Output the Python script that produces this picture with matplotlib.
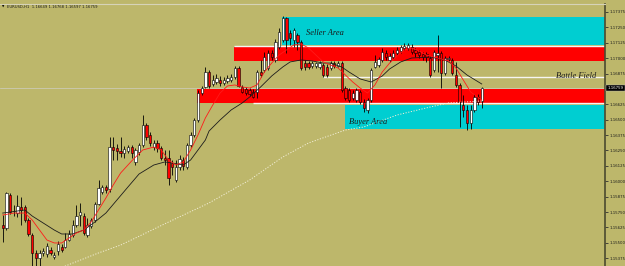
import matplotlib
matplotlib.use("Agg")
import matplotlib.pyplot as plt
import matplotlib.transforms as mtransforms
from matplotlib.patches import Rectangle

BG = "#bdb76b"
CYAN = "#00ced1"
RED = "#ff0000"

header_text = "EURUSD,H1  1.16649 1.16768 1.16597 1.16759"
last_price = 1.16759
last_label = "1.16759"

opens = [1.15645, 1.15621, 1.15889, 1.15759, 1.15742, 1.15791, 1.15791, 1.15686, 1.15564, 1.15418,
         1.15377, 1.15418, 1.15410, 1.15442, 1.15385, 1.15434, 1.15466, 1.15466, 1.15523, 1.15564,
         1.15645, 1.15726, 1.15718, 1.15564, 1.15637, 1.15686, 1.15816, 1.15913, 1.15954, 1.15937,
         1.16278, 1.16270, 1.16246, 1.16230, 1.16246, 1.16278, 1.16157, 1.16238, 1.16295, 1.16457,
         1.16376, 1.16278, 1.16311, 1.16270, 1.16189, 1.16189, 1.16148, 1.16010, 1.16116, 1.16173,
         1.16116, 1.16295, 1.16376, 1.16498, 1.16717, 1.16766, 1.16887, 1.16790, 1.16806, 1.16822,
         1.16798, 1.16814, 1.16822, 1.16847, 1.16920, 1.16766, 1.16749, 1.16741, 1.16725, 1.16725,
         1.16887, 1.16904, 1.16920, 1.17042, 1.16985, 1.17090, 1.17147, 1.17326, 1.17204, 1.17147,
         1.17188, 1.17131, 1.16960, 1.16960, 1.16936, 1.16936, 1.16928, 1.16944, 1.16928, 1.16920,
         1.16960, 1.16936, 1.16960, 1.16757, 1.16741, 1.16676, 1.16660, 1.16725, 1.16644, 1.16579,
         1.16660, 1.16928, 1.16944, 1.16985, 1.17042, 1.16985, 1.17009, 1.17042, 1.17058, 1.17082,
         1.17082, 1.17090, 1.17066, 1.17050, 1.17034, 1.17034, 1.17001, 1.16904, 1.17025, 1.17042,
         1.16879, 1.16993, 1.16985, 1.16863, 1.16782, 1.16619, 1.16579, 1.16473, 1.16579, 1.16684,
         1.16649]
highs = [1.15726, 1.15913, 1.15905, 1.15808, 1.15889, 1.15872, 1.15808, 1.15702, 1.15580, 1.15442,
         1.15442, 1.15458, 1.15499, 1.15466, 1.15426, 1.15515, 1.15491, 1.15580, 1.15604, 1.15686,
         1.15808, 1.15824, 1.15742, 1.15702, 1.15702, 1.15832, 1.16010, 1.15970, 1.15970, 1.16360,
         1.16360, 1.16303, 1.16360, 1.16287, 1.16295, 1.16295, 1.16270, 1.16311, 1.16538, 1.16473,
         1.16400, 1.16335, 1.16335, 1.16287, 1.16254, 1.16254, 1.16173, 1.16173, 1.16213, 1.16197,
         1.16311, 1.16400, 1.16514, 1.16741, 1.16774, 1.16928, 1.16904, 1.16863, 1.16871, 1.16855,
         1.16847, 1.16863, 1.16871, 1.16936, 1.16936, 1.16782, 1.16766, 1.16757, 1.16749, 1.16904,
         1.16985, 1.17050, 1.17066, 1.17066, 1.17155, 1.17245, 1.17342, 1.17334, 1.17228, 1.17245,
         1.17204, 1.17147, 1.16985, 1.16977, 1.16977, 1.16969, 1.16977, 1.16960, 1.16952, 1.16977,
         1.16977, 1.16977, 1.16977, 1.16774, 1.16757, 1.16741, 1.16757, 1.16741, 1.16668, 1.16676,
         1.16920, 1.17025, 1.17009, 1.17082, 1.17066, 1.17042, 1.17066, 1.17090, 1.17107, 1.17123,
         1.17123, 1.17115, 1.17082, 1.17066, 1.17050, 1.17050, 1.17017, 1.17066, 1.17188, 1.17058,
         1.17017, 1.17017, 1.17001, 1.16969, 1.16798, 1.16701, 1.16619, 1.16619, 1.16709, 1.16709,
         1.16768]
lows = [1.15507, 1.15604, 1.15734, 1.15718, 1.15710, 1.15645, 1.15669, 1.15556, 1.15300, 1.15300,
        1.15300, 1.15393, 1.15385, 1.15401, 1.15369, 1.15401, 1.15426, 1.15458, 1.15515, 1.15548,
        1.15629, 1.15637, 1.15564, 1.15548, 1.15621, 1.15669, 1.15808, 1.15897, 1.15905, 1.15913,
        1.16173, 1.16173, 1.16197, 1.16189, 1.16230, 1.16189, 1.16132, 1.16213, 1.16278, 1.16335,
        1.16287, 1.16254, 1.16238, 1.16173, 1.16132, 1.15970, 1.16051, 1.15994, 1.16092, 1.16092,
        1.16100, 1.16278, 1.16360, 1.16481, 1.16701, 1.16757, 1.16757, 1.16774, 1.16790, 1.16774,
        1.16782, 1.16798, 1.16806, 1.16831, 1.16766, 1.16717, 1.16701, 1.16692, 1.16676, 1.16676,
        1.16847, 1.16887, 1.16904, 1.16985, 1.16969, 1.17074, 1.17131, 1.17042, 1.17107, 1.17090,
        1.17066, 1.16904, 1.16904, 1.16912, 1.16920, 1.16920, 1.16912, 1.16847, 1.16847, 1.16904,
        1.16920, 1.16928, 1.16725, 1.16660, 1.16644, 1.16660, 1.16644, 1.16628, 1.16563, 1.16554,
        1.16644, 1.16920, 1.16928, 1.16969, 1.16985, 1.16969, 1.16993, 1.17025, 1.17042, 1.17066,
        1.17066, 1.17034, 1.17009, 1.17001, 1.16985, 1.16969, 1.16847, 1.16887, 1.16887, 1.16757,
        1.16863, 1.16977, 1.16863, 1.16766, 1.16441, 1.16522, 1.16416, 1.16425, 1.16563, 1.16619,
        1.16597]
closes = [1.15621, 1.15905, 1.15751, 1.15755, 1.15799, 1.15767, 1.15686, 1.15572, 1.15418, 1.15377,
          1.15418, 1.15434, 1.15474, 1.15418, 1.15401, 1.15491, 1.15442, 1.15523, 1.15572, 1.15645,
          1.15718, 1.15751, 1.15580, 1.15645, 1.15686, 1.15816, 1.15945, 1.15954, 1.15929, 1.16278,
          1.16254, 1.16246, 1.16230, 1.16262, 1.16278, 1.16230, 1.16254, 1.16295, 1.16457, 1.16360,
          1.16311, 1.16311, 1.16270, 1.16189, 1.16173, 1.16027, 1.16116, 1.16116, 1.16181, 1.16124,
          1.16295, 1.16376, 1.16498, 1.16717, 1.16757, 1.16887, 1.16774, 1.16822, 1.16839, 1.16798,
          1.16822, 1.16839, 1.16847, 1.16920, 1.16774, 1.16725, 1.16717, 1.16709, 1.16684, 1.16887,
          1.16863, 1.17009, 1.17042, 1.17009, 1.17131, 1.17212, 1.17326, 1.17147, 1.17163, 1.17228,
          1.17131, 1.16920, 1.16928, 1.16928, 1.16960, 1.16960, 1.16960, 1.16863, 1.16863, 1.16960,
          1.16936, 1.16960, 1.16741, 1.16676, 1.16660, 1.16717, 1.16741, 1.16644, 1.16595, 1.16660,
          1.16904, 1.16969, 1.16993, 1.17050, 1.17009, 1.17017, 1.17042, 1.17066, 1.17090, 1.17099,
          1.17107, 1.17050, 1.17042, 1.17025, 1.17009, 1.17009, 1.16863, 1.17050, 1.17042, 1.16879,
          1.17001, 1.17001, 1.16879, 1.16782, 1.16644, 1.16579, 1.16473, 1.16579, 1.16684, 1.16644,
          1.16759]

# fast (red) moving average, read at selected bars
fast_ma_bars = [0, 3, 6, 8, 10, 12, 14, 16, 18, 20, 22, 24, 26, 28, 30, 32, 35, 38, 41, 43, 45, 47,
                49, 51, 53, 55, 57, 59, 61, 63, 65, 67, 69, 71, 73, 75, 77, 79, 81, 83, 85, 87, 89,
                91, 93, 95, 97, 99, 101, 103, 105, 107, 109, 111, 113, 115, 117, 119, 121, 123, 125,
                127, 130]
fast_ma = [1.15726, 1.15742, 1.15742, 1.15686, 1.15604, 1.15523, 1.15499, 1.15499, 1.15539, 1.15580,
           1.15604, 1.15669, 1.15767, 1.15864, 1.15970, 1.16067, 1.16165, 1.16254, 1.16278, 1.16254,
           1.16173, 1.16132, 1.16157, 1.16254, 1.16376, 1.16514, 1.16619, 1.16717, 1.16774, 1.16782,
           1.16766, 1.16757, 1.16782, 1.16887, 1.16960, 1.17025, 1.17066, 1.17107, 1.17115, 1.17082,
           1.17025, 1.16969, 1.16944, 1.16920, 1.16863, 1.16806, 1.16757, 1.16717, 1.16782, 1.16887,
           1.16960, 1.17017, 1.17066, 1.17082, 1.17058, 1.17025, 1.17009, 1.16993, 1.16977, 1.16920,
           1.16822, 1.16725, 1.16660]

# slower (black) moving average
mid_ma_bars = [0, 6, 8, 11, 14, 16, 19, 22, 25, 28, 31, 34, 37, 41, 44, 46, 49, 51, 53, 55, 56, 59,
               62, 65, 67, 70, 73, 76, 78, 81, 84, 87, 89, 92, 94, 97, 100, 103, 105, 108, 111, 116,
               120, 123, 126, 130]
mid_ma = [1.15742, 1.15767, 1.15718, 1.15661, 1.15604, 1.15572, 1.15572, 1.15604, 1.15669, 1.15742,
          1.15848, 1.15954, 1.16059, 1.16132, 1.16157, 1.16148, 1.16132, 1.16173, 1.16254, 1.16335,
          1.16408, 1.16498, 1.16579, 1.16636, 1.16684, 1.16766, 1.16855, 1.16928, 1.16969, 1.16985,
          1.16977, 1.16960, 1.16960, 1.16928, 1.16887, 1.16831, 1.16806, 1.16855, 1.16912, 1.16969,
          1.17001, 1.17009, 1.16985, 1.16936, 1.16863, 1.16790]

# long (dotted) moving average
slow_ma_bars = [12, 17, 26, 32, 36, 45, 56, 67, 76, 83, 93, 98, 107, 116, 121, 130]
slow_ma = [1.15263, 1.15312, 1.15418, 1.15482, 1.15539, 1.15669, 1.15824, 1.16010, 1.16197, 1.16311,
           1.16416, 1.16441, 1.16538, 1.16603, 1.16636, 1.16652]

# drawn zones: start bar, top price, bottom price
seller_zone = (75.8, 1.17334, 1.17107)
upper_red_zone = (62.8, 1.17090, 1.16977)
lower_red_zone = (52.8, 1.16749, 1.16636)
buyer_zone = (92.9, 1.16619, 1.16425)
# drawn horizontal lines: start bar, price
upper_line = (62.8, 1.17099)
battle_line = (86.9, 1.16847)
lower_line = (67.9, 1.16636)

tick_labels = ["1.17375", "1.17250", "1.17125", "1.17000", "1.16875", "1.16625", "1.16500",
               "1.16375", "1.16250", "1.16125", "1.16000", "1.15875", "1.15750", "1.15625",
               "1.15500", "1.15375"]

W, H = 625, 266
fig = plt.figure(figsize=(W / 100, H / 100), dpi=100, facecolor=BG)
ax = fig.add_axes([0, 0, 605 / W, 262 / H])
ax.set_facecolor(BG)
XL, XR = -0.733, 163.45
ax.set_xlim(XL, XR)
ax.set_ylim(1.15312, 1.174395)

def zone(z, color):
    x0, top, bot = z
    ax.add_patch(Rectangle((x0, bot), XR - x0, top - bot, facecolor=color,
                           edgecolor="none", zorder=1))

zone(seller_zone, CYAN)
zone(upper_red_zone, RED)
zone(lower_red_zone, RED)
zone(buyer_zone, CYAN)

ax.axhline(last_price, color="#cfcfc4", lw=0.5, zorder=1.2)
for x0, lvl in (upper_line, battle_line, lower_line):
    ax.hlines(lvl, x0, XR, color="#f6f6f2", lw=1.0, zorder=1.5)

idx = list(range(len(opens)))
ax.vlines(idx, lows, highs, color="black", lw=0.6, zorder=3)
bottoms = [min(o, c) for o, c in zip(opens, closes)]
heights = [max(abs(c - o), 0.000012) for o, c in zip(opens, closes)]
colors = ["white" if c >= o else RED for o, c in zip(opens, closes)]
ax.bar(idx, heights, bottom=bottoms, width=0.62, color=colors, edgecolor="black",
       linewidth=0.4, zorder=4)

ax.plot(slow_ma_bars, slow_ma, color="#f2eed6", lw=0.7, ls=(0, (1.2, 1.6)), zorder=5)
ax.plot(mid_ma_bars, mid_ma, color="#1c1c1c", lw=0.6, zorder=5)
ax.plot(fast_ma_bars, fast_ma, color="#ff1a1a", lw=0.6, zorder=5)

txt_kw = dict(fontsize=6, style="italic", family="Liberation Serif", color="#1a1a1a",
              va="center", ha="left", zorder=6)
ax.text(82.3, 1.17204, "Seller Area", **txt_kw)
ax.text(150.2, 1.16853, "Battle Field", **txt_kw)
ax.text(94.0, 1.16481, "Buyer Area", **txt_kw)

for s in ("left", "bottom"):
    ax.spines[s].set_visible(False)
ax.spines["top"].set_color("#d6d3b8")
ax.spines["top"].set_linewidth(0.8)
ax.spines["right"].set_color("#4c4a30")
ax.spines["right"].set_linewidth(1.2)
ax.set_xticks([])
ax.yaxis.tick_right()
ax.set_yticks([float(t) for t in tick_labels])
ax.set_yticklabels(tick_labels)
ax.tick_params(axis="y", length=2, width=0.6, color="#303030", labelsize=2.8,
               labelcolor="#1a1a1a", pad=1.5)

trans = mtransforms.blended_transform_factory(ax.transAxes, ax.transData)
ax.text(1.004, last_price, last_label, transform=trans, fontsize=2.8, color="white",
        va="center", ha="left", clip_on=False, zorder=10,
        bbox=dict(facecolor="black", edgecolor="#bbbbbb", pad=0.8, lw=0.3))

fig.text(2 / W, 1 - 6.5 / H, "\u25bc", fontsize=2.2, color="black", va="center", ha="left")
fig.text(7 / W, 1 - 6.5 / H, header_text, fontsize=2.7, color="#1a1a1a", va="center", ha="left")

fig.savefig("out.png", dpi=100, facecolor=BG)
